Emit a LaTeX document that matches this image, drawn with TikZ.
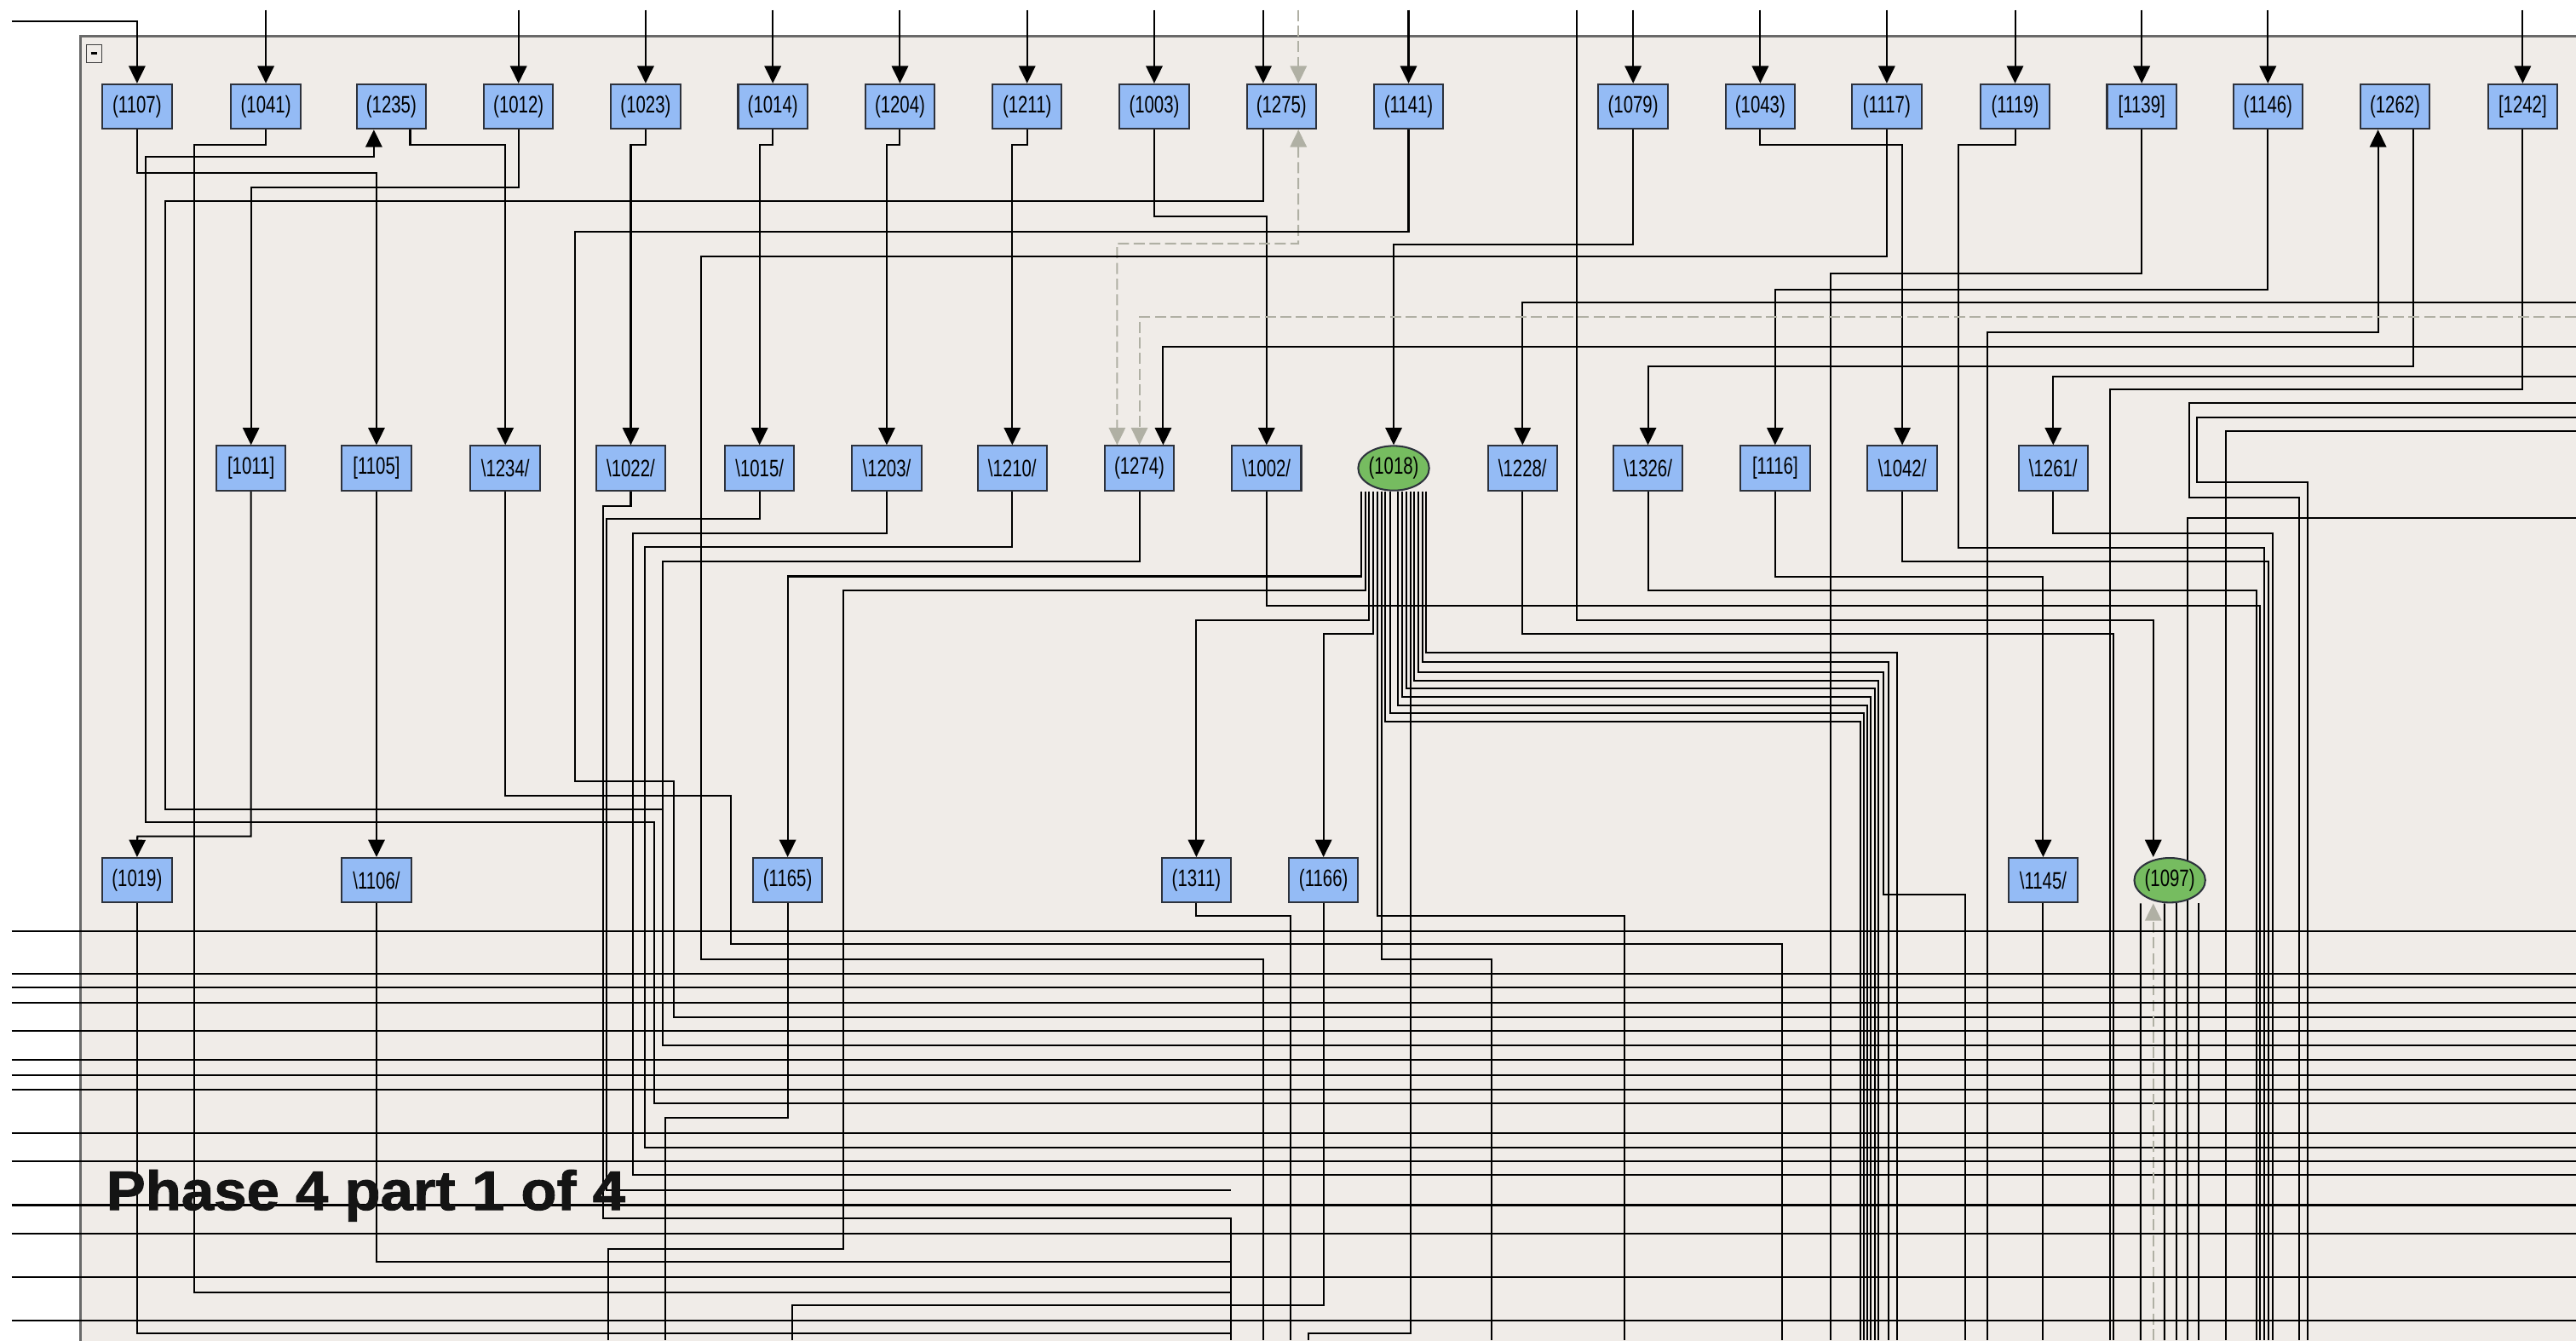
\documentclass[tikz,border=0pt]{standalone}
\usepackage{fontspec}
\setmainfont{Liberation Sans}
\newfontfamily\boxfont[FakeStretch=0.73]{Liberation Sans}
\newfontfamily\titlefont[FakeStretch=1.06, FakeBold=1.4]{Liberation Sans}
\usepackage{tikz}
\usetikzlibrary{calc}
\usetikzlibrary{positioning}
\usetikzlibrary{shapes,arrows.meta}

\definecolor{panelfill}{RGB}{240,236,232}
\definecolor{paneledge}{RGB}{105,105,105}
\definecolor{boxfill}{RGB}{148,187,245}
\definecolor{boxedge}{RGB}{45,50,60}
\definecolor{greenfill}{RGB}{118,188,96}
\definecolor{ghostgray}{RGB}{176,176,164}

\pgfdeclarelayer{panel}
\pgfdeclarelayer{wires}
\pgfsetlayers{panel,wires,main}

\begin{document}
\begin{tikzpicture}[x=0.02cm, y=-0.02cm,
  >={Triangle[length=2.1mm, width=2mm]},
  blk/.style={draw=boxedge, fill=boxfill, line width=0.6pt, minimum width=0.84cm,
    minimum height=0.54cm, inner sep=0pt, font=\boxfont\fontsize{8.2}{9}\selectfont},
  oval/.style={blk, ellipse, fill=greenfill},
  wire/.style={line width=0.6pt, black},
  ghostwire/.style={line width=0.6pt, ghostgray, dash pattern=on 3.8pt off 1.6pt}]

\useasboundingbox (0, 0) rectangle (1560, 811.5);
\coordinate (top) at (0, 6);

% panel
\begin{pgfonlayer}{panel}
\fill[white] (0, 0) rectangle (1560, 811.5);
\fill[panelfill] (48.7, 22) rectangle (1580, 830);
\draw[paneledge, line width=0.7pt] (1580, 22) -- (48.7, 22) -- (48.7, 830);
\draw[black!75, line width=0.4pt] (52.5, 27) rectangle (61.5, 38);
\draw[black, line width=0.8pt] (55, 32.3) -- (59, 32.3);
\end{pgfonlayer}

% top row
\node[blk](n1107) at (83, 64.5) {(1107)};
\node[blk](n1041) at (161, 64.5) {(1041)};
\node[blk](n1235) at (237, 64.5) {(1235)};
\node[blk](n1012) at (314, 64.5) {(1012)};
\node[blk](n1023) at (391, 64.5) {(1023)};
\node[blk](n1014) at (468, 64.5) {(1014)};
\node[blk](n1204) at (545, 64.5) {(1204)};
\node[blk](n1211) at (622, 64.5) {(1211)};
\node[blk](n1003) at (699, 64.5) {(1003)};
\node[blk](n1275) at (776, 64.5) {(1275)};
\node[blk](n1141) at (853, 64.5) {(1141)};
\node[blk](n1079) at (989, 64.5) {(1079)};
\node[blk](n1043) at (1066, 64.5) {(1043)};
\node[blk](n1117) at (1142.6, 64.5) {(1117)};
\node[blk](n1119) at (1220.3, 64.5) {(1119)};
\node[blk](n1139) at (1297, 64.5) {[1139]};
\node[blk](n1146) at (1373.4, 64.5) {(1146)};
\node[blk](n1262) at (1450.4, 64.5) {(1262)};
\node[blk](n1242) at (1527.7, 64.5) {[1242]};

% middle row
\node[blk](n1011) at (152, 283.5) {[1011]};
\node[blk](n1105) at (228, 283.5) {[1105]};
\node[blk](n1234) at (306, 283.5) {\textbackslash 1234/};
\node[blk](n1022) at (382, 283.5) {\textbackslash 1022/};
\node[blk](n1015) at (460, 283.5) {\textbackslash 1015/};
\node[blk](n1203) at (537, 283.5) {\textbackslash 1203/};
\node[blk](n1210) at (613, 283.5) {\textbackslash 1210/};
\node[blk](n1274) at (690, 283.5) {(1274)};
\node[blk](n1002) at (767, 283.5) {\textbackslash 1002/};
\node[oval](n1018) at (844, 283.5) {(1018)};
\node[blk](n1228) at (922, 283.5) {\textbackslash 1228/};
\node[blk](n1326) at (998, 283.5) {\textbackslash 1326/};
\node[blk](n1116) at (1075, 283.5) {[1116]};
\node[blk](n1042) at (1152, 283.5) {\textbackslash 1042/};
\node[blk](n1261) at (1243.4, 283.5) {\textbackslash 1261/};

% bottom row
\node[blk](n1019) at (83, 533) {(1019)};
\node[blk](n1106) at (228, 533) {\textbackslash 1106/};
\node[blk](n1165) at (477, 533) {(1165)};
\node[blk](n1311) at (724.5, 533) {(1311)};
\node[blk](n1166) at (801.5, 533) {(1166)};
\node[blk](n1145) at (1237.3, 533) {\textbackslash 1145/};
\node[oval](n1097) at (1314, 533) {(1097)};

\node[anchor=base west, inner sep=0pt, text=black!92, font=\titlefont\fontsize{19.1}{20}\selectfont\bfseries](title) at (64, 732.6) {Phase 4 part 1 of 4};

\begin{pgfonlayer}{wires}
% inputs from above
\draw[wire,->] (7, 13) -| (n1107.north);
\draw[wire,->] (n1041.north |- top) -- (n1041.north);
\draw[wire,->] (n1012.north |- top) -- (n1012.north);
\draw[wire,->] (n1023.north |- top) -- (n1023.north);
\draw[wire,->] (n1014.north |- top) -- (n1014.north);
\draw[wire,->] (n1204.north |- top) -- (n1204.north);
\draw[wire,->] (n1211.north |- top) -- (n1211.north);
\draw[wire,->] (n1003.north |- top) -- (n1003.north);
\draw[wire,->] (765, 6) -- ($(n1275.north)+(-11, 0)$);
\draw[ghostwire,->] (786.3, 6) -- ($(n1275.north)+(10.3, 0)$);
\draw[wire,->] (n1141.north |- top) -- (n1141.north);
\draw[wire,->] (n1079.north |- top) -- (n1079.north);
\draw[wire,->] (n1043.north |- top) -- (n1043.north);
\draw[wire,->] (n1117.north |- top) -- (n1117.north);
\draw[wire,->] (n1119.north |- top) -- (n1119.north);
\draw[wire,->] (n1139.north |- top) -- (n1139.north);
\draw[wire,->] (n1146.north |- top) -- (n1146.north);
\draw[wire,->] (n1242.north |- top) -- (n1242.north);
\draw[wire,->] (955, 6) |- (1304, 375.4) -- ($(n1097.north)+(-10, 0)$);

% top row outputs
\draw[wire,->] (n1107.south) -- ++(0, 26) -| (n1105.north);
\draw[wire] (n1041.south) -- ++(0, 9.2) -| (117.8, 782.5) -| (745.2, 811.5);
\draw[wire,->] ($(n1235.south)+(11.4, 0)$) -- ++(0, 9.2) -| (n1234.north);
\draw[wire,->] (1560, 668) -| (396.4, 497.8) -| (88.2, 94.9) -| ($(n1235.south)+(-10.6, 0)$);
\draw[wire,->] (n1012.south) -- ++(0, 35) -| (n1011.north);
\draw[wire,->] (n1023.south) -- ++(0, 9.2) -| (n1022.north);
\draw[wire,->] (n1014.south) -- ++(0, 9.2) -| (n1015.north);
\draw[wire,->] (n1204.south) -- ++(0, 9.2) -| (n1203.north);
\draw[wire,->] (n1211.south) -- ++(0, 9.2) -| (n1210.north);
\draw[wire,->] (n1003.south) -- ++(0, 52.7) -| (n1002.north);
\draw[wire] ($(n1275.south)+(-11, 0)$) -- ++(0, 43.2) -| (100.3, 490) -- (401.4, 490);
\draw[ghostwire,<->] ($(n1275.south)+(10.3, 0)$) |- (676.5, 147.5) -- ($(n1274.north)+(-13.5, 0)$);
\draw[wire] (n1141.south) -- ++(0, 61.6) -| (348, 473) -| (408, 616.2) -- (1560, 616.2);
\draw[wire,->] (n1079.south) -- ++(0, 69.5) -| (n1018.north);
\draw[wire,->] (n1043.south) -- ++(0, 9.2) -| (n1042.north);
\draw[wire] (n1117.south) -- ++(0, 77) -| (424.4, 581) -| (765, 811.5);
\draw[wire] (n1119.south) -- ++(0, 9.2) -| (1186.1, 331.5) -| (1371.4, 811.5);
\draw[wire] (n1139.south) -- ++(0, 87) -| (1108.6, 811.5);
\draw[wire,->] (n1146.south) -- ++(0, 97) -| (n1116.north);
\draw[wire,->] (1203.6, 811.5) |- (1440.1, 201) -- ($(n1262.south)+(-10.3, 0)$);
\draw[wire,->] ($(n1262.south)+(10.9, 0)$) |- (998, 222) -- (n1326.north);
\draw[wire] (n1242.south) |- (1277.7, 235.6) -- (1277.7, 811.5);

% inputs from the right
\draw[wire,->] (1560, 183) -| (n1228.north);
\draw[ghostwire,->] (1560, 192) -| (n1274.north);
\draw[wire,->] (1560, 210) -| ($(n1274.north)+(14.4, 0)$);
\draw[wire,->] (1560, 228) -| (n1261.north);
\draw[wire] (1560, 243.8) -| (1325.9, 301.3) -| (1392.3, 811.5);
\draw[wire] (1560, 252.8) -| (1330.6, 292) -| (1397.3, 811.5);
\draw[wire] (1560, 261) -| (1347.8, 811.5);
\draw[wire] (1560, 313.8) -| (1324.9, 811.5);

% middle row outputs
\draw[wire,->] (n1011.south) |- (83.2, 506.4) -- (n1019.north);
\draw[wire,->] (n1105.south) -- (n1106.north);
\draw[wire] (n1234.south) |- (442.8, 482) |- (1079, 571.8) -- (1079, 811.5);
\draw[wire] (n1022.south) -- ++(0, 8.8) -| (365.2, 737.9) -| (745.2, 811.5);
\draw[wire] (n1015.south) -- ++(0, 16.8) -| (367.4, 720.6) -- (745.2, 720.6);
\draw[wire] (n1203.south) -- ++(0, 25.5) -| (383.3, 711.6) -- (1560, 711.6);
\draw[wire] (n1210.south) -- ++(0, 33.5) -| (390.5, 694.8) -- (1560, 694.8);
\draw[wire] (n1274.south) -- ++(0, 42.5) -| (401.4, 633) -- (1560, 633);
\draw[wire] (n1002.south) |- (1368.7, 366.6) -- (1368.7, 811.5);
\draw[wire] (n1228.south) |- (1280.1, 383.8) -- (1280.1, 811.5);
\draw[wire] (n1326.south) |- (1366.3, 357.4) -- (1366.3, 811.5);
\draw[wire,->] (n1116.south) |- (1237.3, 349.3) -- (n1145.north);
\draw[wire] (n1042.south) |- (1373.8, 340) -- (1373.8, 811.5);
\draw[wire] (n1261.south) |- (1376.2, 323) -- (1376.2, 811.5);

% fan out of (1018)
\draw[wire,->] ($(n1018.south)+(-19.5, 0)$) |- (477, 349) -- (n1165.north);
\draw[wire] ($(n1018.south)+(-17.2, 0)$) |- (510.6, 357.4) |- (368.5, 756.1) -- (368.5, 811.5);
\draw[wire,->] ($(n1018.south)+(-14.9, 0)$) |- (724.5, 375.4) -- (n1311.north);
\draw[wire,->] ($(n1018.south)+(-12.3, 0)$) |- (801.5, 383.8) -- (n1166.north);
\draw[wire] ($(n1018.south)+(-10, 0)$) |- (983.8, 554.6) -- (983.8, 811.5);
\draw[wire] ($(n1018.south)+(-7.3, 0)$) |- (903.5, 581) -- (903.5, 811.5);
\draw[wire] ($(n1018.south)+(-5, 0)$) |- (1126.8, 437) -- (1126.8, 811.5);
\draw[wire] ($(n1018.south)+(-2.3, 0)$) |- (1128.8, 432) -- (1128.8, 811.5);
\draw[wire] ($(n1018.south)+(2.6, 0)$) |- (1130.8, 427) -- (1130.8, 811.5);
\draw[wire] ($(n1018.south)+(5.2, 0)$) |- (1132.9, 422) -- (1132.9, 811.5);
\draw[wire] ($(n1018.south)+(7.5, 0)$) |- (1135.2, 417) -- (1135.2, 811.5);
\draw[wire] ($(n1018.south)+(10.1, 0)$) |- (792.3, 807.4) -- (792.3, 811.5);
\draw[wire] ($(n1018.south)+(12.4, 0)$) |- (1137.4, 412) -- (1137.4, 811.5);
\draw[wire] ($(n1018.south)+(14.7, 0)$) |- (1140.6, 407) |- (1190.1, 541.7) -- (1190.1, 811.5);
\draw[wire] ($(n1018.south)+(17.3, 0)$) |- (1143.5, 401) -- (1143.5, 811.5);
\draw[wire] ($(n1018.south)+(19.6, 0)$) |- (1148.7, 395) -- (1148.7, 811.5);

% bottom row outputs
\draw[wire] (n1019.south) |- (745.2, 807.4);
\draw[wire] (n1106.south) |- (745.2, 764);
\draw[wire] (n1165.south) |- (403, 677) -- (403, 811.5);
\draw[wire] (n1311.south) |- (781.7, 554.6) -- (781.7, 811.5);
\draw[wire] (n1166.south) |- (479.7, 790.5) -- (479.7, 811.5);
\draw[wire] (n1145.south) -- (1237.3, 811.5);
\draw[wire] ($(n1097.south)+(-17.7, 0)$) -- (1296.3, 811.5);
\draw[wire] ($(n1097.south)+(-3.2, 0)$) -- (1310.8, 811.5);
\draw[wire] ($(n1097.south)+(4.2, 0)$) -- (1318.2, 811.5);
\draw[wire] ($(n1097.south)+(17.6, 0)$) -- (1331.6, 811.5);
\draw[ghostwire,->] (1304, 811.5) -- ($(n1097.south)+(-10, 0)$);

% lines coming in from the left
\draw[wire] (7, 563.7) -- (1560, 563.7);
\draw[wire] (7, 589.8) -- (1560, 589.8);
\draw[wire] (7, 598) -- (1560, 598);
\draw[wire] (7, 607.2) -- (1560, 607.2);
\draw[wire] (7, 624.4) -- (1560, 624.4);
\draw[wire] (7, 641.8) -- (1560, 641.8);
\draw[wire] (7, 650.9) -- (1560, 650.9);
\draw[wire] (7, 660) -- (1560, 660);
\draw[wire] (7, 686.2) -- (1560, 686.2);
\draw[wire] (7, 703.3) -- (1560, 703.3);
\draw[wire] (7, 729.7) -- (1560, 729.7);
\draw[wire] (7, 747.2) -- (1560, 747.2);
\draw[wire] (7, 773.3) -- (1560, 773.3);
\draw[wire] (7, 799.7) -- (1560, 799.7);
\end{pgfonlayer}

\end{tikzpicture}
\end{document}
